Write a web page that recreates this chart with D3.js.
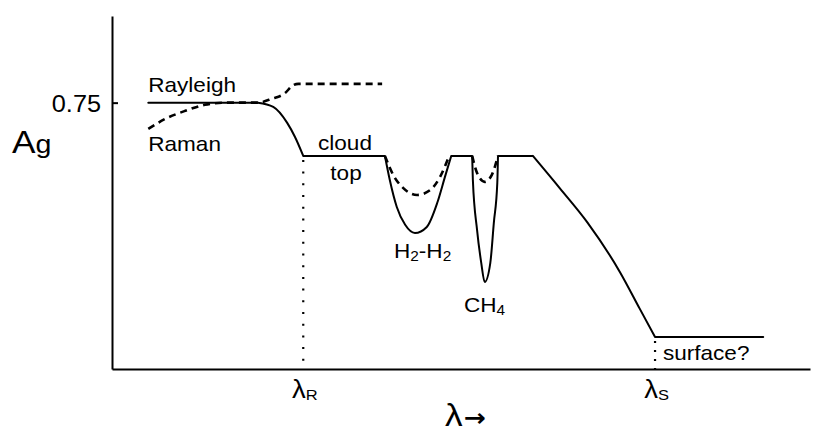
<!DOCTYPE html>
<html><head><meta charset="utf-8">
<script src="https://cdn.jsdelivr.net/npm/d3@7"></script>
<style>
body{margin:0;background:#fff}
svg{display:block}
text{font-family:"Liberation Sans",Arial,Helvetica,sans-serif;fill:#000}
</style>
</head><body>
<svg id="chart" width="830" height="444"></svg>
<script>
// ---- data (relative wavelength, geometric albedo) ----
const yTickValues = [0.75];
const yTickLabels = ["0.75"];
const lambdaR = 27.4;
const lambdaS = 77.8;
const xTickValues = [lambdaR, lambdaS];
const xTickMain = ["λ", "λ"];
const xTickSub = ["R", "S"];

const rayleighPlateau = [[5.2,0.75],[20.9,0.75]];
const rayleighDrop = [[20.9,0.75],[23.1,0.738],[25.1,0.693],[26.2,0.654],[27.4,0.60]];
const cloudTop = [[27.4,0.60],[39.1,0.60]];
const h2Band = [[39.1,0.60],[39.8,0.532],[40.8,0.456],[42.0,0.406],[43.4,0.383],[45.1,0.400],[46.6,0.468],[47.7,0.541],[48.6,0.60]];
const gapPlateau = [[48.6,0.60],[51.6,0.60]];
const ch4Band = [[51.6,0.60],[51.7,0.532],[52.3,0.392],[52.9,0.299],[53.4,0.245],[54.2,0.299],[54.7,0.411],[55.2,0.524],[55.3,0.60]];
const redPlateau = [[55.3,0.60],[60.3,0.60]];
const continuumDrop = [[60.3,0.60],[64.2,0.508],[68.1,0.413],[72.8,0.272],[75.6,0.170],[77.8,0.09]];
const surfaceLevel = [[77.8,0.09],[93.3,0.09]];

const ramanCurve = [[5.2,0.676],[7.6,0.704],[10.5,0.727],[13.3,0.744],[16.2,0.75],[20.9,0.75],[22.9,0.761],[24.8,0.777],[25.8,0.797],[26.7,0.803],[38.7,0.803]];
const h2Dashed = [[39.1,0.60],[40.3,0.546],[41.7,0.510],[43.7,0.490],[45.6,0.504],[47.0,0.541],[48.3,0.60]];
const ch4Dashed = [[51.6,0.60],[52.3,0.552],[53.4,0.527],[54.4,0.546],[55.3,0.60]];

// ---- layout ----
const svg = d3.select("#chart");
const x = d3.scaleLinear().domain([0,100]).range([112,810]);
const y = d3.scaleLinear().domain([0,0.994]).range([369,16]);
const SX = 1.1;

const lineLin = d3.line().x(d=>x(d[0])).y(d=>y(d[1]));
const lineCurve = d3.line().x(d=>x(d[0])).y(d=>y(d[1])).curve(d3.curveMonotoneX);

function label(parent, px, py, parts, anchor){
  const g = parent.append("g").attr("transform",`translate(${px},${py}) scale(${SX},1)`);
  const t = g.append("text").attr("text-anchor", anchor||"start");
  parts.forEach(p=>{
    const ts = t.append("tspan").attr("font-size",p.s+"px").attr("dy",p.dy||0).attr("dx",p.dx||0).text(p.t);
    if (p.w) ts.attr("font-weight", p.w);
    if (p.f) ts.attr("font-family", p.f);
  });
  return t;
}

// dotted verticals
svg.append("path").attr("d", lineLin([[lambdaR,0.60],[lambdaR,0]]))
  .attr("fill","none").attr("stroke","#000").attr("stroke-width",2.2)
  .attr("stroke-dasharray","2,9.7").attr("stroke-dashoffset",7.7);
svg.append("path").attr("d", lineLin([[lambdaS,0.09],[lambdaS,0]]))
  .attr("fill","none").attr("stroke","#000").attr("stroke-width",2.2)
  .attr("stroke-dasharray","2,7").attr("stroke-dashoffset",5);

// dashed
[ramanCurve, h2Dashed, ch4Dashed].forEach(d=>{
  svg.append("path").attr("d", lineCurve(d)).attr("fill","none")
    .attr("stroke","#000").attr("stroke-width",2.6).attr("stroke-dasharray","7,5");
});

// solid spectrum
const solidPath = [
  lineLin(rayleighPlateau), lineCurve(rayleighDrop), lineLin(cloudTop),
  lineCurve(h2Band), lineLin(gapPlateau), lineCurve(ch4Band),
  lineLin(redPlateau), lineCurve(continuumDrop), lineLin(surfaceLevel)
].join("");
svg.append("path").attr("d", solidPath).attr("fill","none")
  .attr("stroke","#000").attr("stroke-width",2).attr("stroke-linejoin","round").attr("stroke-linecap","round");

// axes
const yAxis = d3.axisLeft(y).tickValues(yTickValues).tickSize(-6).tickSizeOuter(0).tickFormat("");
const gy = svg.append("g").attr("transform",`translate(${x(0)},0)`).call(yAxis);
gy.select(".domain").attr("stroke-width",2);
gy.selectAll(".tick line").attr("stroke-width",2);
gy.selectAll(".tick").each(function(d,i){
  label(d3.select(this), -11, 9, [{t:yTickLabels[i], s:23}], "end");
});

const xAxis = d3.axisBottom(x).tickValues(xTickValues).tickSize(0).tickSizeOuter(0).tickFormat("");
const gx = svg.append("g").attr("transform",`translate(0,${y(0)})`).call(xAxis);
gx.select(".domain").attr("stroke-width",2.2);
gx.selectAll(".tick").each(function(d,i){
  label(d3.select(this), 1, 29, [{t:xTickMain[i], s:25},{t:xTickSub[i], s:15, dy:2}], "middle");
});

// axis titles
label(svg, 12, 153, [{t:"A", s:32},{t:"g", s:26}], "start");
label(svg, 445, 426, [{t:"λ", s:32},{t:"→", s:24, dx:1, dy:0, w:"bold", f:"DejaVu Sans"}], "start");

// annotations
label(svg, x(5.2), 92, [{t:"Rayleigh", s:20.5}], "start");
label(svg, x(5.2), 151, [{t:"Raman", s:20.5}], "start");
label(svg, 345, 150, [{t:"cloud", s:20.5}], "middle");
label(svg, 346, 180, [{t:"top", s:20.5}], "middle");
label(svg, 394, 258, [{t:"H", s:20.5},{t:"2", s:14, dy:3},{t:"-H", s:20.5, dy:-3},{t:"2", s:14, dy:3}], "start");
label(svg, 464, 312, [{t:"CH", s:20.5},{t:"4", s:14, dy:3}], "start");
label(svg, 663, 360, [{t:"surface?", s:20.5}], "start");
</script>
</body></html>
